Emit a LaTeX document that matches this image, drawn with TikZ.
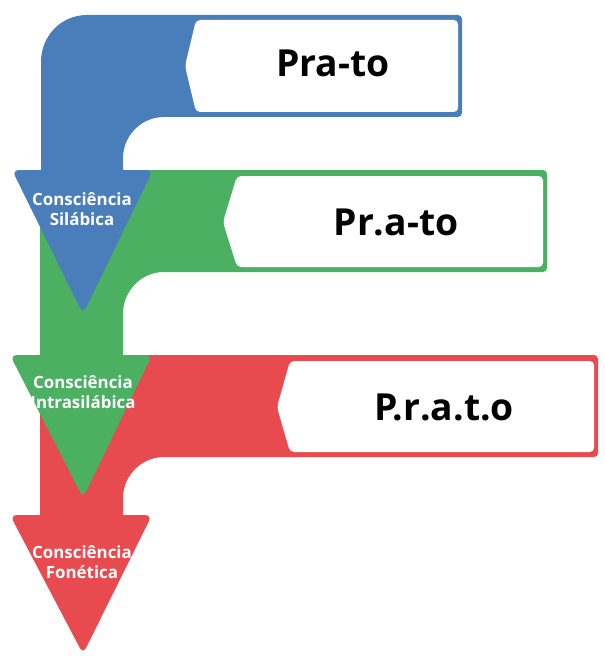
\documentclass[tikz,border=0pt]{standalone}
\usepackage{fontspec}
\setmainfont{Open Sans}
\usepackage{tikz}
\definecolor{blue}{HTML}{4A7EBB}
\definecolor{green}{HTML}{4CB063}
\definecolor{red}{HTML}{E84B4F}

\begin{document}
\begin{tikzpicture}[x=.025cm,y=-.025cm,
  word/.style={font=\bfseries\fontsize{26.5}{30}\selectfont},
  tag/.style={text=white,align=center,font=\bfseries\fontsize{12}{13.8}\selectfont}]
\useasboundingbox (0,0) rectangle (604,656);
\fill[red] (40,515)--(40,355)--(594,355) .. controls (596.2,355) and (598,356.8) .. (598,359)--(598,453) .. controls (598,455.2) and (596.2,457) .. (594,457)--(164,457) .. controls (141,457) and (123,476) .. (123,498)--(123,515)--cycle;
\fill[white,rounded corners=3] (290,361)--(594,361)--(594,452)--(290,452)--(277,407)--cycle;
\fill[red,rounded corners=5] (10,515)--(152,515)--(83,654)--cycle;
\node[tag] (fonetica) at (82,562) {Consciência\\Fonética};
\node[word] (prato3) at (444,407) {P.r.a.t.o};
\fill[green] (40,355)--(40,170)--(543,170) .. controls (545.2,170) and (547,171.8) .. (547,174)--(547,268) .. controls (547,270.2) and (545.2,272) .. (543,272)--(164,272) .. controls (141,272) and (123,291) .. (123,314)--(123,355)--cycle;
\fill[white,rounded corners=3] (237,176)--(543,176)--(543,267)--(237,267)--(223,222)--cycle;
\fill[green,rounded corners=5] (10,355)--(152,355)--(83,498)--cycle;
\node[tag] (intra) at (83,392) {Consciência\\Intrasilábica};
\node[word] (prato2) at (396,222) {Pr.a-to};
\fill[blue] (41,170)--(41,62) .. controls (41,36) and (61,15) .. (87,15)--(458,15) .. controls (460.2,15) and (462,16.8) .. (462,19)--(462,113) .. controls (462,115.2) and (460.2,117) .. (458,117)--(164,117) .. controls (141,117) and (123,136) .. (123,158)--(123,170)--cycle;
\fill[white,rounded corners=3] (196,20)--(458,20)--(458,112)--(196,112)--(185,66)--cycle;
\fill[blue,rounded corners=5] (12,170)--(153,170)--(83,314)--cycle;
\node[tag] (silabica) at (82,209) {Consciência\\Silábica};
\node[word] (prato1) at (333,63) {Pra-to};
\end{tikzpicture}
\end{document}
